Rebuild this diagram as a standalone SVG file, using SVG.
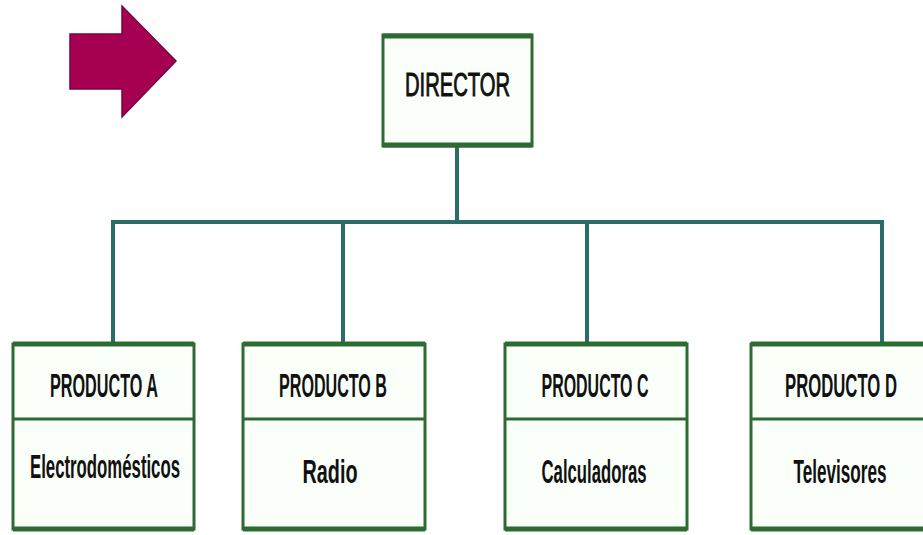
<svg xmlns="http://www.w3.org/2000/svg" width="923" height="535" viewBox="0 0 923 535">
<style>
.box{fill:#fbfffa;stroke:#2e6b32;stroke-width:3}
.edge{stroke:#2e6b32;stroke-width:5;fill:none}
.div{stroke:#2e6b32;stroke-width:3;fill:none}
.conn{stroke:#2b6c68;stroke-width:4;fill:none;stroke-linecap:square}
.t{font-family:"Liberation Sans",Arial,sans-serif;font-size:17px;fill:#111;text-anchor:middle}
.b{font-weight:bold}
</style>
<rect width="923" height="535" fill="#ffffff"/>
<polygon id="arrow" points="70,34 122,34 122,6 176,61 122,117 122,89 70,89" fill="#a50052" stroke="#7d0040" stroke-width="1.5"/>
<g id="connectors">
<line class="conn" x1="457" y1="147" x2="457" y2="222"/>
<line class="conn" x1="113" y1="222" x2="882" y2="222"/>
<line class="conn" x1="113" y1="222" x2="113" y2="342"/>
<line class="conn" x1="343" y1="222" x2="343" y2="342"/>
<line class="conn" x1="587" y1="222" x2="587" y2="342"/>
<line class="conn" x1="882" y1="222" x2="882" y2="342"/>
</g>
<g id="director">
<rect class="box" x="383" y="35" width="149" height="111"/>
<line class="edge" x1="383" y1="36" x2="532" y2="36"/>
<line class="edge" x1="383" y1="145" x2="532" y2="145"/>
<text class="t" transform="translate(457.5,96) scale(1,1.94)" textLength="105" lengthAdjust="spacingAndGlyphs" style="stroke:#111;stroke-width:0.5">DIRECTOR</text>
</g>
<g id="productoA">
<rect class="box" x="13" y="344" width="181" height="185"/>
<line class="edge" x1="13" y1="344" x2="194" y2="344"/>
<line class="edge" x1="13" y1="529" x2="194" y2="529"/>
<line class="div" x1="13" y1="419" x2="194" y2="419"/>
<text class="t b" transform="translate(104,397) scale(1,1.94)" textLength="108" lengthAdjust="spacingAndGlyphs">PRODUCTO A</text>
<text class="t b" transform="translate(105,478) scale(1,1.94)" textLength="150" lengthAdjust="spacingAndGlyphs">Electrodomésticos</text>
</g>
<g id="productoB">
<rect class="box" x="243" y="344" width="182" height="185"/>
<line class="edge" x1="243" y1="344" x2="425" y2="344"/>
<line class="edge" x1="243" y1="529" x2="425" y2="529"/>
<line class="div" x1="243" y1="419" x2="425" y2="419"/>
<text class="t b" transform="translate(333,397) scale(1,1.94)" textLength="108" lengthAdjust="spacingAndGlyphs">PRODUCTO B</text>
<text class="t b" transform="translate(330,483) scale(1,1.94)" textLength="55" lengthAdjust="spacingAndGlyphs">Radio</text>
</g>
<g id="productoC">
<rect class="box" x="505" y="344" width="182" height="185"/>
<line class="edge" x1="505" y1="344" x2="687" y2="344"/>
<line class="edge" x1="505" y1="529" x2="687" y2="529"/>
<line class="div" x1="505" y1="419" x2="687" y2="419"/>
<text class="t b" transform="translate(595,397) scale(1,1.94)" textLength="107" lengthAdjust="spacingAndGlyphs">PRODUCTO C</text>
<text class="t b" transform="translate(594,483) scale(1,1.94)" textLength="105" lengthAdjust="spacingAndGlyphs">Calculadoras</text>
</g>
<g id="productoD">
<rect class="box" x="751" y="344" width="178" height="185"/>
<line class="edge" x1="751" y1="344" x2="929" y2="344"/>
<line class="edge" x1="751" y1="529" x2="929" y2="529"/>
<line class="div" x1="751" y1="419" x2="929" y2="419"/>
<text class="t b" transform="translate(841,397) scale(1,1.94)" textLength="112" lengthAdjust="spacingAndGlyphs">PRODUCTO  D</text>
<text class="t b" transform="translate(840,483) scale(1,1.94)" textLength="93" lengthAdjust="spacingAndGlyphs">Televisores</text>
</g>
</svg>
